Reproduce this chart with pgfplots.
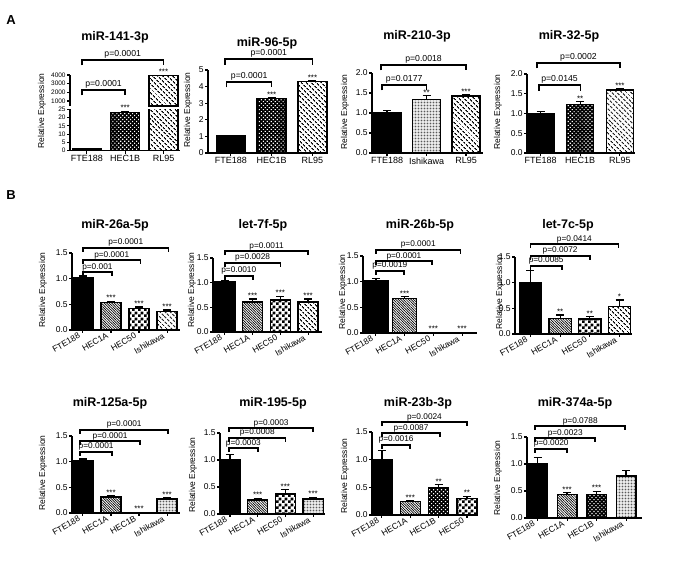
\documentclass[border=0pt]{standalone}
\usepackage{fontspec}
\setmainfont{Liberation Sans}
\usepackage{pgfplots}
\pgfplotsset{compat=1.18}
\usetikzlibrary{patterns,patterns.meta}

\pgfdeclarepatternformonly{mycheck}{\pgfpointorigin}{\pgfqpoint{6bp}{6bp}}{\pgfqpoint{6bp}{6bp}}{%
  \pgfpathrectangle{\pgfpointorigin}{\pgfqpoint{3bp}{3bp}}%
  \pgfpathrectangle{\pgfqpoint{3bp}{3bp}}{\pgfqpoint{3bp}{3bp}}%
  \pgfusepath{fill}}

\newcommand\fs[1]{\fontsize{#1bp}{#1bp}\selectfont}
\newcommand\bra[4]{%
  \draw[line width=1.4bp] ([yshift=-5.5bp]axis cs:#1,#3) -- (axis cs:#1,#3) -- node[above, inner sep=1bp, font=\fs{8.7}]{#4} (axis cs:#2,#3) -- ([yshift=-5.5bp]axis cs:#2,#3);}
\newcommand\brb[4]{%
  \draw[line width=1.7bp] ([yshift=-4bp]axis cs:#1,#3) -- (axis cs:#1,#3) -- node[above, inner sep=0.4bp, font=\fs{8.3}]{#4} (axis cs:#2,#3) -- ([yshift=-4bp]axis cs:#2,#3);}
\newcommand\st[3]{\node[anchor=base, inner sep=0pt, font=\fs{8}] at (axis cs:#1,#2) {#3};}

\tikzset{
 solidbar/.style={fill=black},
 dotsw/.style={fill=black, postaction={pattern={Dots[radius=0.8bp, distance=2.8bp, angle=45]}, pattern color=white}},
 wide/.style={fill=white, postaction={pattern={Lines[angle=-45, distance=3.6bp, line width=1.2bp]}, pattern color=black}},
 fine/.style={fill=white, postaction={pattern={Lines[angle=-45, distance=1.8bp, line width=0.7bp]}, pattern color=black}},
 check/.style={fill=white, postaction={pattern=mycheck, pattern color=black}},
 gdots/.style={fill=white, postaction={pattern={Dots[radius=0.45bp, distance=1.5bp]}, pattern color=black}},
}

\pgfplotsset{
 prism/.style={
  scale only axis, axis lines*=left, ybar, bar shift=0pt,
  axis line style={line width=1.5bp, -, black},
  enlargelimits=false, ymin=0, clip=false,
  tick align=outside, major tick length=3bp,
  tick style={line width=1.1bp, black},
  yticklabel style={font=\fs{8.5}, inner sep=1.2bp},
  xticklabel style={font=\fs{9}, inner sep=1.5bp},
  every axis plot/.append style={draw=black, line width=1.4bp},
  minor tick num=0,
 },
 pa/.style={prism, ymax=2, ytick={0,0.5,1,1.5,2}, yticklabels={0.0,0.5,1.0,1.5,2.0}, xtick={0,1,2}},
 pb/.style={prism, xticklabel style={rotate=30, anchor=east, xshift=-3bp, font=\fs{8.5}, inner sep=1bp}, ymax=1.5, ytick={0,0.5,1,1.5}, yticklabels={0.0,0.5,1.0,1.5}, xtick={0,1,2,3}},
 eb/.style={/pgfplots/error bars/y dir=plus, /pgfplots/error bars/y explicit,
   /pgfplots/error bars/error bar style={line width=1.3bp, black},
   /pgfplots/error bars/error mark options={rotate=90, mark size=4bp, line width=1.3bp, black}},
}

\begin{document}
\begin{tikzpicture}[x=1bp,y=1bp]
\path[use as bounding box] (0,0) rectangle (675,563);

% panel letters
\node[font=\bfseries\fs{13}] at (11,543) {A};
\node[font=\bfseries\fs{13}] at (11,368) {B};

% titles
\node[font=\bfseries\fs{12.5}] at (115,526) {miR-141-3p};
\node[font=\bfseries\fs{12.5}] at (267,520) {miR-96-5p};
\node[font=\bfseries\fs{12.5}] at (417,527) {miR-210-3p};
\node[font=\bfseries\fs{12.5}] at (569,527) {miR-32-5p};
\node[font=\bfseries\fs{12.5}] at (115,338) {miR-26a-5p};
\node[font=\bfseries\fs{12.5}] at (263,338) {let-7f-5p};
\node[font=\bfseries\fs{12.5}] at (420,338) {miR-26b-5p};
\node[font=\bfseries\fs{12.5}] at (568,338) {let-7c-5p};
\node[font=\bfseries\fs{12.5}] at (110,160) {miR-125a-5p};
\node[font=\bfseries\fs{12.5}] at (273,160) {miR-195-5p};
\node[font=\bfseries\fs{12.5}] at (418,160) {miR-23b-3p};
\node[font=\bfseries\fs{12.5}] at (575,160) {miR-374a-5p};

% y labels
\node[rotate=90, font=\fs{8.5}] at (42,452) {Relative Expression};
\node[rotate=90, font=\fs{8.5}] at (188,453) {Relative Expression};
\node[rotate=90, font=\fs{8.5}] at (345,451) {Relative Expression};
\node[rotate=90, font=\fs{8.5}] at (498,451) {Relative Expression};
\node[rotate=90, font=\fs{8.5}] at (43,273) {Relative Expression};
\node[rotate=90, font=\fs{8.5}] at (192,273) {Relative Expression};
\node[rotate=90, font=\fs{8.5}] at (343,271) {Relative Expression};
\node[rotate=90, font=\fs{8.5}] at (500,271) {Relative Expression};
\node[rotate=90, font=\fs{8.5}] at (43,90) {Relative Expression};
\node[rotate=90, font=\fs{8.5}] at (193,88) {Relative Expression};
\node[rotate=90, font=\fs{8.5}] at (345,87) {Relative Expression};
\node[rotate=90, font=\fs{8.5}] at (498,85) {Relative Expression};

% ---- A1 lower (broken axis)
\begin{axis}[prism, at={(70bp,412.3bp)}, width=110bp, height=41.4bp, xmin=-0.44, xmax=2.43, ymax=25, bar width=0.76,
  clip=true, clip mode=individual, ytick={0,5,10,15,20,25}, yticklabels={0,5,10,15,20,25}, yticklabel style={font=\fs{6.5}},
  xtick={0,1,2}, xticklabels={FTE188,HEC1B,RL95}]
\addplot[solidbar] coordinates {(0,1)};
\addplot[dotsw,eb] coordinates {(1,23.2) +- (0,0.6)};
\addplot[wide] coordinates {(2,3950)};
\st{1}{24}{***}
\end{axis}
% ---- A1 upper
\begin{axis}[prism, at={(70bp,456.8bp)}, width=110bp, height=31.2bp, xmin=-0.44, xmax=2.43, ymin=400, ymax=4000, bar width=0.76,
  clip=true, clip mode=individual, axis x line=none, xtick=\empty,
  ytick={1000,2000,3000,4000}, yticklabels={1000,2000,3000,4000}, yticklabel style={font=\fs{6.5}}]
\addplot[wide,eb] coordinates {(2,3950) +- (0,30)};
\st{2}{4010}{***}
\bra{-0.13}{2}{5731}{p=0.0001}
\bra{-0.13}{1}{2269}{p=0.0001}
\end{axis}

% ---- A2
\begin{axis}[prism, at={(208bp,410bp)}, width=120bp, height=83bp, xmin=-0.56, xmax=2.38, ymax=5, bar width=0.71,
  ytick={0,1,2,3,4,5}, yticklabels={0,1,2,3,4,5}, xtick={0,1,2}, xticklabels={FTE188,HEC1B,RL95}]
\addplot[solidbar] coordinates {(0,1.02)};
\addplot[dotsw,eb] coordinates {(1,3.3) +- (0,0.05)};
\addplot[wide,eb] coordinates {(2,4.3) +- (0,0.04)};
\st{1}{3.37}{***}\st{2}{4.36}{***}
\bra{-0.14}{2}{5.66}{p=0.0001}
\bra{-0.1}{1}{4.28}{p=0.0001}
\end{axis}

% ---- A3
\begin{axis}[pa, at={(372bp,410bp)}, width=111bp, height=80bp, xmin=-0.38, xmax=2.43, bar width=0.71,
  xticklabels={FTE188,Ishikawa,RL95}]
\addplot[solidbar,eb] coordinates {(0,1.0) +- (0,0.07)};
\addplot[gdots,eb] coordinates {(1,1.33) +- (0,0.1)};
\addplot[wide,eb] coordinates {(2,1.42) +- (0,0.04)};
\st{1}{1.44}{**}\st{2}{1.47}{***}
\bra{-0.15}{2}{2.2}{p=0.0018}
\bra{-0.13}{1}{1.7}{p=0.0177}
\end{axis}

% ---- A4
\begin{axis}[pa, at={(527bp,410bp)}, width=108bp, height=79bp, xmin=-0.34, xmax=2.38, bar width=0.68,
  xticklabels={FTE188,HEC1B,RL95}]
\addplot[solidbar,eb] coordinates {(0,1.0) +- (0,0.05)};
\addplot[dotsw,eb] coordinates {(1,1.23) +- (0,0.07)};
\addplot[wide,eb] coordinates {(2,1.59) +- (0,0.03)};
\st{1}{1.31}{**}\st{2}{1.63}{***}
\bra{-0.09}{2}{2.28}{p=0.0002}
\bra{-0.04}{1}{1.72}{p=0.0145}
\end{axis}

% ---- B1 miR-26a-5p
\begin{axis}[pb, at={(72bp,233bp)}, width=108bp, height=77bp, xmin=-0.39, xmax=3.46, bar width=0.71,
  xticklabels={FTE188,HEC1A,HEC50,Ishikawa}]
\addplot[solidbar,eb] coordinates {(0,1.01) +- (0,0.04)};
\addplot[fine,eb] coordinates {(1,0.53) +- (0,0.03)};
\addplot[check,eb] coordinates {(2,0.42) +- (0,0.03)};
\addplot[wide,eb] coordinates {(3,0.36) +- (0,0.03)};
\st{1}{0.57}{***}\st{2}{0.46}{***}\st{3}{0.40}{***}
\brb{0}{3.05}{1.60}{p=0.0001}
\brb{0}{2.05}{1.36}{p=0.0001}
\brb{0}{1.03}{1.13}{p=0.001}
\end{axis}

% ---- B2 let-7f-5p
\begin{axis}[pb, at={(213bp,231bp)}, width=109bp, height=74bp, xmin=-0.43, xmax=3.5, bar width=0.72,
  xticklabels={FTE188,HEC1A,HEC50,Ishikawa}]
\addplot[solidbar,eb] coordinates {(0,1.01) +- (0,0.04)};
\addplot[fine,eb] coordinates {(1,0.61) +- (0,0.06)};
\addplot[check,eb] coordinates {(2,0.65) +- (0,0.07)};
\addplot[wide,eb] coordinates {(3,0.61) +- (0,0.06)};
\st{1}{0.68}{***}\st{2}{0.73}{***}\st{3}{0.68}{***}
\brb{0}{3}{1.64}{p=0.0011}
\brb{0}{2}{1.40}{p=0.0028}
\brb{0}{1}{1.14}{p=0.0010}
\end{axis}

% ---- B3 miR-26b-5p
\begin{axis}[pb, at={(363bp,230bp)}, width=114bp, height=77bp, xmin=-0.45, xmax=3.52, bar width=0.84,
  xticklabels={FTE188,HEC1A,HEC50,Ishikawa}]
\addplot[solidbar,eb] coordinates {(0,1.01) +- (0,0.05)};
\addplot[fine,eb] coordinates {(1,0.67) +- (0,0.04)};
\addplot[check] coordinates {(2,0.005)};
\addplot[wide] coordinates {(3,0.005)};
\st{1}{0.72}{***}\st{2}{0.03}{***}\st{3}{0.03}{***}
\brb{0}{2.95}{1.62}{p=0.0001}
\brb{0}{1.95}{1.40}{p=0.0001}
\brb{0}{0.97}{1.21}{p=0.0019}
\end{axis}

% ---- B4 let-7c-5p
\begin{axis}[pb, at={(515bp,229bp)}, width=117bp, height=77bp, xmin=-0.52, xmax=3.42, bar width=0.75,
  xticklabels={FTE188,HEC1A,HEC50,Ishikawa}]
\addplot[solidbar,eb] coordinates {(0,1.0) +- (0,0.24)};
\addplot[fine,eb] coordinates {(1,0.30) +- (0,0.07)};
\addplot[check,eb] coordinates {(2,0.29) +- (0,0.05)};
\addplot[wide,eb] coordinates {(3,0.54) +- (0,0.12)};
\st{1}{0.38}{**}\st{2}{0.35}{**}\st{3}{0.67}{*}
\brb{0}{2.96}{1.75}{p=0.0414}
\brb{0}{2}{1.52}{p=0.0072}
\brb{0}{1.06}{1.33}{p=0.0085}
\end{axis}

% ---- B5 miR-125a-5p
\begin{axis}[pb, at={(72bp,50bp)}, width=108bp, height=77bp, xmin=-0.39, xmax=3.46, bar width=0.71,
  xticklabels={FTE188,HEC1A,HEC1B,Ishikawa}]
\addplot[solidbar,eb] coordinates {(0,1.01) +- (0,0.04)};
\addplot[fine,eb] coordinates {(1,0.31) +- (0,0.02)};
\addplot[dotsw] coordinates {(2,0.005)};
\addplot[gdots,eb] coordinates {(3,0.27) +- (0,0.03)};
\st{1}{0.34}{***}\st{2}{0.03}{***}\st{3}{0.31}{***}
\brb{-0.1}{3.04}{1.62}{p=0.0001}
\brb{-0.1}{2.04}{1.40}{p=0.0001}
\brb{-0.1}{1.04}{1.19}{p=0.0001}
\end{axis}

% ---- B6 miR-195-5p
\begin{axis}[pb, at={(220bp,49bp)}, width=105bp, height=81bp, xmin=-0.36, xmax=3.43, bar width=0.73,
  xticklabels={FTE188,HEC1A,HEC50,Ishikawa}]
\addplot[solidbar,eb] coordinates {(0,1.0) +- (0,0.1)};
\addplot[fine,eb] coordinates {(1,0.26) +- (0,0.03)};
\addplot[check,eb] coordinates {(2,0.37) +- (0,0.08)};
\addplot[gdots,eb] coordinates {(3,0.28) +- (0,0.03)};
\st{1}{0.30}{***}\st{2}{0.46}{***}\st{3}{0.32}{***}
\brb{-0.03}{3}{1.59}{p=0.0003}
\brb{-0.03}{2}{1.41}{p=0.0008}
\brb{-0.03}{1}{1.22}{p=0.0003}
\end{axis}

% ---- B7 miR-23b-3p
\begin{axis}[pb, at={(372bp,48bp)}, width=106bp, height=83bp, xmin=-0.35, xmax=3.39, bar width=0.71,
  xticklabels={FTE188,HEC1A,HEC1B,HEC50}]
\addplot[solidbar,eb] coordinates {(0,1.0) +- (0,0.17)};
\addplot[fine,eb] coordinates {(1,0.24) +- (0,0.02)};
\addplot[dotsw,eb] coordinates {(2,0.49) +- (0,0.06)};
\addplot[check,eb] coordinates {(3,0.30) +- (0,0.04)};
\st{1}{0.27}{***}\st{2}{0.56}{**}\st{3}{0.35}{**}
\brb{0}{3}{1.68}{p=0.0024}
\brb{0}{2.05}{1.48}{p=0.0087}
\brb{0}{1}{1.27}{p=0.0016}
\end{axis}

% ---- B8 miR-374a-5p
\begin{axis}[pb, at={(527bp,45bp)}, width=115bp, height=81bp, xmin=-0.36, xmax=3.54, bar width=0.66,
  xticklabels={FTE188,HEC1A,HEC1B,Ishikawa}]
\addplot[solidbar,eb] coordinates {(0,1.0) +- (0,0.12)};
\addplot[fine,eb] coordinates {(1,0.43) +- (0,0.04)};
\addplot[dotsw,eb] coordinates {(2,0.43) +- (0,0.06)};
\addplot[gdots,eb] coordinates {(3,0.78) +- (0,0.10)};
\st{1}{0.48}{***}\st{2}{0.50}{***}
\brb{-0.08}{2.97}{1.70}{p=0.0788}
\brb{-0.08}{1.95}{1.48}{p=0.0023}
\brb{-0.08}{1.0}{1.28}{p=0.0020}
\end{axis}
\end{tikzpicture}
\end{document}
